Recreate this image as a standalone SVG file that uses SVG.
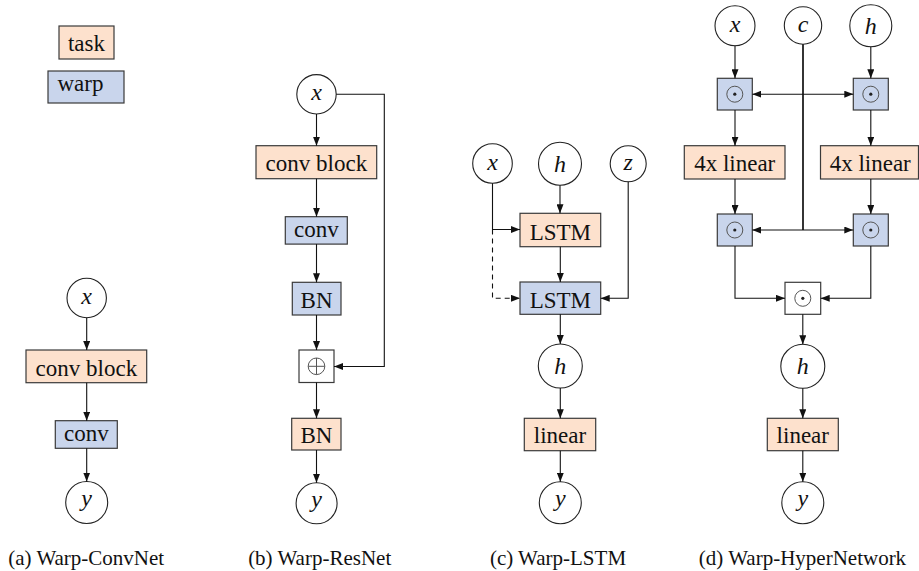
<svg xmlns="http://www.w3.org/2000/svg" width="919" height="571" viewBox="0 0 919 571">
<defs>
<style>
.task{fill:#FDE1CD;stroke:#3a3a3a;stroke-width:1.2}
.warp{fill:#C9D5EC;stroke:#3a3a3a;stroke-width:1.2}
.op{fill:#ffffff;stroke:#3a3a3a;stroke-width:1.2}
.var{fill:#ffffff;stroke:#222;stroke-width:1.1}
.lbl{font-family:"Liberation Serif","Times New Roman",serif;font-size:23px;fill:#111;text-anchor:middle}
.math{font-family:"Liberation Serif","Times New Roman",serif;font-style:italic;font-size:24px;fill:#111;text-anchor:middle}
.cap{font-family:"Liberation Serif","Times New Roman",serif;font-size:21px;fill:#111;text-anchor:middle}
.sym{fill:none;stroke:#555;stroke-width:1}
.dot{fill:#222}
.edge{fill:none;stroke:#111;stroke-width:1.1}
.dash{stroke-dasharray:5,4}
.thick{stroke-width:1.7}
</style>
<marker id="arr" markerUnits="userSpaceOnUse" markerWidth="9" markerHeight="7" refX="9" refY="3.5" orient="auto-start-reverse">
<path d="M0,0 L9,3.5 L0,7 z" fill="#111"/>
</marker>
</defs>

<!-- legend -->
<g id="legend-task"><rect class="task" x="59" y="26" width="55" height="33"/><text class="lbl" x="86.5" y="51">task</text></g>
<g id="legend-warp"><rect class="warp" x="48" y="71" width="76" height="32"/><text class="lbl" x="80.5" y="91">warp</text></g>

<!-- (a) -->
<g id="a-x"><circle class="var" cx="86.7" cy="298" r="19.7"/><text class="math" x="86.7" y="304">x</text></g>
<g id="a-convblock"><rect class="task" x="26" y="350" width="120.7" height="32.7"/><text class="lbl" x="86.4" y="375.5">conv block</text></g>
<g id="a-conv"><rect class="warp" x="55.3" y="420.7" width="62" height="27.6"/><text class="lbl" x="86.3" y="440.7">conv</text></g>
<g id="a-y"><circle class="var" cx="86.7" cy="502.5" r="21"/><text class="math" x="86.7" y="506">y</text></g>

<!-- (b) -->
<g id="b-x"><circle class="var" cx="316.5" cy="94.3" r="19.7"/><text class="math" x="316.5" y="100.3">x</text></g>
<g id="b-convblock"><rect class="task" x="256" y="145.7" width="120.7" height="33"/><text class="lbl" x="316.4" y="171">conv block</text></g>
<g id="b-conv"><rect class="warp" x="285.3" y="216.7" width="62" height="27.4"/><text class="lbl" x="316.3" y="236.5">conv</text></g>
<g id="b-bn1"><rect class="warp" x="292.3" y="282.3" width="48.7" height="32.7"/><text class="lbl" x="316.6" y="307.5">BN</text></g>
<g id="b-add"><rect class="op" x="299" y="350" width="35" height="32.5"/><circle class="sym" cx="316.5" cy="366.3" r="8.3"/><path class="sym" d="M308.2,366.3 H324.8 M316.5,358 V374.6"/></g>
<g id="b-bn2"><rect class="task" x="291.7" y="418.3" width="49.3" height="31.7"/><text class="lbl" x="316.4" y="443">BN</text></g>
<g id="b-y"><circle class="var" cx="316.6" cy="503.3" r="20.5"/><text class="math" x="316.6" y="506.8">y</text></g>

<!-- (c) -->
<g id="c-x"><circle class="var" cx="492.5" cy="163.5" r="19.8"/><text class="math" x="492.5" y="169.5">x</text></g>
<g id="c-h"><circle class="var" cx="560" cy="163.8" r="21.5"/><text class="math" x="560" y="171.8">h</text></g>
<g id="c-z"><circle class="var" cx="628.2" cy="163.8" r="18"/><text class="math" x="628.2" y="169.8">z</text></g>
<g id="c-lstm1"><rect class="task" x="520" y="213.3" width="80.7" height="33.4"/><text class="lbl" x="560.3" y="240">LSTM</text></g>
<g id="c-lstm2"><rect class="warp" x="520" y="282" width="80.7" height="32.3"/><text class="lbl" x="560.3" y="307.5">LSTM</text></g>
<g id="c-h2"><circle class="var" cx="560.3" cy="366" r="22"/><text class="math" x="560.3" y="374">h</text></g>
<g id="c-linear"><rect class="task" x="524.3" y="418.3" width="71.4" height="32.4"/><text class="lbl" x="560" y="443">linear</text></g>
<g id="c-y"><circle class="var" cx="560.3" cy="502.8" r="21"/><text class="math" x="560.3" y="506.3">y</text></g>

<!-- (d) -->
<g id="d-x"><circle class="var" cx="735" cy="25.7" r="20"/><text class="math" x="735" y="31.7">x</text></g>
<g id="d-c"><circle class="var" cx="803" cy="25.5" r="18.7"/><text class="math" x="803" y="31.5">c</text></g>
<g id="d-h"><circle class="var" cx="870.8" cy="25.8" r="21"/><text class="math" x="870.8" y="33.8">h</text></g>
<g id="d-m1"><rect class="warp" x="717.3" y="78.3" width="35" height="31.7"/><circle class="sym" cx="734.8" cy="94.2" r="8"/><circle class="dot" cx="734.8" cy="94.2" r="1.6"/></g>
<g id="d-m2"><rect class="warp" x="853.3" y="78.3" width="35" height="31.7"/><circle class="sym" cx="870.8" cy="94.2" r="8"/><circle class="dot" cx="870.8" cy="94.2" r="1.6"/></g>
<g id="d-lin1"><rect class="task" x="684.3" y="145.7" width="100.7" height="33.3"/><text class="lbl" x="734.7" y="171">4x linear</text></g>
<g id="d-lin2"><rect class="task" x="820.5" y="145.7" width="98" height="33.3"/><text class="lbl" x="870.2" y="171">4x linear</text></g>
<g id="d-m3"><rect class="warp" x="717.3" y="214" width="35" height="32"/><circle class="sym" cx="734.8" cy="230" r="8"/><circle class="dot" cx="734.8" cy="230" r="1.6"/></g>
<g id="d-m4"><rect class="warp" x="853.3" y="214" width="35" height="32"/><circle class="sym" cx="870.8" cy="230" r="8"/><circle class="dot" cx="870.8" cy="230" r="1.6"/></g>
<g id="d-m5"><rect class="op" x="785" y="282.3" width="35.7" height="32"/><circle class="sym" cx="802.8" cy="298.3" r="8"/><circle class="dot" cx="802.8" cy="298.3" r="1.6"/></g>
<g id="d-h2"><circle class="var" cx="802.8" cy="366.3" r="22"/><text class="math" x="802.8" y="374.3">h</text></g>
<g id="d-linear"><rect class="task" x="767.3" y="418.3" width="71" height="32.4"/><text class="lbl" x="802.8" y="443">linear</text></g>
<g id="d-y"><circle class="var" cx="802.8" cy="502.8" r="21"/><text class="math" x="802.8" y="506.3">y</text></g>

<!-- connectors -->
<g id="connectors">
<path class="edge" marker-end="url(#arr)" d="M86.7,317.7 V350"/>
<path class="edge" marker-end="url(#arr)" d="M86.7,382.7 V420.7"/>
<path class="edge" marker-end="url(#arr)" d="M86.7,448.3 V481.5"/>

<path class="edge" marker-end="url(#arr)" d="M316.5,114 V145.7"/>
<path class="edge" marker-end="url(#arr)" d="M316.5,178.7 V216.7"/>
<path class="edge" marker-end="url(#arr)" d="M316.5,244.1 V282.3"/>
<path class="edge" marker-end="url(#arr)" d="M316.5,315 V350"/>
<path class="edge" marker-end="url(#arr)" d="M316.5,382.5 V418.3"/>
<path class="edge" marker-end="url(#arr)" d="M316.5,450 V482.8"/>
<path class="edge" marker-end="url(#arr)" d="M336.2,94.3 H384.3 V366.5 H334"/>

<path class="edge" marker-end="url(#arr)" d="M492.5,183.3 V229.5 H520"/>
<path class="edge dash" marker-end="url(#arr)" d="M492.5,229.5 V298.3 H520"/>
<path class="edge" marker-end="url(#arr)" d="M560,185.3 V213.3"/>
<path class="edge" marker-end="url(#arr)" d="M560.3,246.7 V282"/>
<path class="edge" marker-end="url(#arr)" d="M628.2,181.8 V298.3 H600.7"/>
<path class="edge" marker-end="url(#arr)" d="M560.3,314.3 V344"/>
<path class="edge" marker-end="url(#arr)" d="M560.3,388 V418.3"/>
<path class="edge" marker-end="url(#arr)" d="M560.3,450.7 V481.8"/>

<path class="edge" marker-end="url(#arr)" d="M735,45.7 V78.3"/>
<path class="edge" marker-end="url(#arr)" d="M870.8,46.8 V78.3"/>
<path class="edge" marker-start="url(#arr)" marker-end="url(#arr)" d="M752.3,94.2 H853.3"/>
<path class="edge thick" d="M803,44.2 V230"/>
<path class="edge" marker-end="url(#arr)" d="M803,230 H752.3"/>
<path class="edge" marker-end="url(#arr)" d="M803,230 H853.3"/>
<path class="edge" marker-end="url(#arr)" d="M735,110 V145.7"/>
<path class="edge" marker-end="url(#arr)" d="M870.8,110 V145.7"/>
<path class="edge" marker-end="url(#arr)" d="M735,179 V214"/>
<path class="edge" marker-end="url(#arr)" d="M870.8,179 V214"/>
<path class="edge" marker-end="url(#arr)" d="M735,246 V298.3 H785"/>
<path class="edge" marker-end="url(#arr)" d="M870.8,246 V298.3 H820.7"/>
<path class="edge" marker-end="url(#arr)" d="M802.8,314.3 V344.3"/>
<path class="edge" marker-end="url(#arr)" d="M802.8,388.3 V418.3"/>
<path class="edge" marker-end="url(#arr)" d="M802.8,450.7 V481.8"/>
</g>

<!-- captions -->
<text class="cap" x="86.2" y="565">(a) Warp-ConvNet</text>
<text class="cap" x="319.7" y="565">(b) Warp-ResNet</text>
<text class="cap" x="558" y="565">(c) Warp-LSTM</text>
<text class="cap" x="802.5" y="565">(d) Warp-HyperNetwork</text>
</svg>
